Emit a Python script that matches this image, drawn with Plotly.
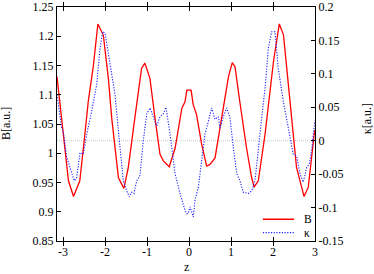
import plotly.graph_objects as go

# ---- data ----
z_B = [-3.143, -3.0, -2.95, -2.87, -2.75, -2.6, -2.48, -2.40, -2.28, -2.17, -2.04,
       -1.92, -1.84, -1.68, -1.55, -1.445, -1.29, -1.13, -1.05, -0.93, -0.81, -0.69,
       -0.61, -0.47, -0.33, -0.17, -0.095, -0.05, 0.05, 0.10, 0.18, 0.30, 0.42, 0.50,
       0.62, 0.74, 0.94, 1.03, 1.095, 1.21, 1.37, 1.49, 1.55, 1.65, 1.81, 2.01, 2.15,
       2.25, 2.40, 2.56, 2.74, 2.84, 2.98, 3.0]
B_vals = [1.131, 1.043, 1.009, 0.953, 0.926, 0.953, 1.032, 1.088, 1.148, 1.221, 1.202,
          1.128, 1.06, 0.958, 0.940, 0.976, 1.06, 1.145, 1.154, 1.128, 1.06, 0.998,
          0.987, 0.977, 1.009, 1.077, 1.088, 1.108, 1.108, 1.083, 1.066, 1.016, 0.978, 0.981,
          0.992, 1.043, 1.131, 1.155, 1.148, 1.088, 1.009, 0.959, 0.942, 0.953, 1.032, 1.156, 1.221,
          1.202, 1.088, 0.976, 0.926, 0.942, 1.032, 1.040]

z_k = [-3.143, -3.031, -2.993, -2.912, -2.833, -2.731, -2.674, -2.595, -2.517, -2.436,
       -2.317, -2.198, -2.119, -2.055, -2.0, -1.881, -1.762, -1.643, -1.564, -1.483,
       -1.421, -1.364, -1.310, -1.245, -1.167, -1.088, -1.007, -0.929, -0.850, -0.769,
       -0.690, -0.612, -0.548, -0.452, -0.333, -0.214, -0.095, -0.055, -0.017, 0.024,
       0.102, 0.143, 0.221, 0.302, 0.381, 0.460, 0.540, 0.619, 0.698, 0.738, 0.817,
       0.898, 0.976, 1.055, 1.136, 1.214, 1.293, 1.412, 1.493, 1.571, 1.650, 1.731,
       1.810, 1.888, 1.969, 2.048, 2.126, 2.245, 2.364, 2.483, 2.564, 2.643, 2.721,
       2.802, 2.864, 2.921, 2.976, 3.0]
kappa_vals = [0.069, 0.019, 0.014, -0.025, -0.040, -0.060, -0.055, -0.018, -0.020, 0.010,
              0.044, 0.084, 0.138, 0.163, 0.161, 0.118, 0.069, -0.010, -0.060, -0.075,
              -0.084, -0.077, -0.079, -0.060, -0.052, 0.0, 0.040, 0.049, 0.036, 0.022,
              0.036, 0.040, 0.050, 0.010, -0.049, -0.079, -0.104, -0.109, -0.109, -0.099,
              -0.114, -0.089, -0.070, -0.025, 0.010, 0.029, 0.049, 0.032, 0.036, 0.019, 0.036,
              0.049, 0.034, -0.010, -0.049, -0.060, -0.077, -0.079, -0.075, -0.060, -0.010, 0.034,
              0.078, 0.138, 0.163, 0.163, 0.108, 0.059, 0.019, -0.020, -0.023, -0.050, -0.062,
              -0.040, -0.035, -0.015, 0.019, 0.030]

series_names = ["B", "κ"]

x_ticks = [-3, -2, -1, 0, 1, 2, 3]
x_ticktext = ["-3", "-2", "-1", "0", "1", "2", "3"]
yB_ticks = [0.85, 0.9, 0.95, 1.0, 1.05, 1.1, 1.15, 1.2, 1.25]
yB_ticktext = ["0.85", "0.9", "0.95", "1", "1.05", "1.1", "1.15", "1.2", "1.25"]
yk_ticks = [-0.15, -0.1, -0.05, 0.0, 0.05, 0.1, 0.15, 0.2]
yk_ticktext = ["-0.15", "-0.1", "-0.05", "0", "0.05", "0.1", "0.15", "0.2"]

FONT = "Liberation Serif"
B_LINE = dict(color="#ff0000", width=1.3)
K_LINE = dict(color="#2020ff", width=1.1, dash="1.2px,1.5px")

fig = go.Figure()
fig.add_trace(go.Scatter(x=z_B, y=B_vals, mode="lines", name=series_names[0], line=B_LINE))
fig.add_trace(go.Scatter(x=z_k, y=kappa_vals, mode="lines", name=series_names[1],
                         yaxis="y2", line=K_LINE))

# kappa = 0 reference line
fig.add_shape(type="line", xref="paper", x0=0, x1=1, yref="y2", y0=0, y1=0,
              line=dict(color="#c8c8c8", width=1, dash="1px,1px"), layer="below")

# compact gnuplot-style key (bottom right)
key_rows = [0.093, 0.036]
for name, line, ky in zip(series_names, [B_LINE, K_LINE], key_rows):
    fig.add_shape(type="line", xref="paper", yref="paper", x0=0.798, x1=0.919,
                  y0=ky, y1=ky, line=line)
    fig.add_annotation(text=name, xref="paper", yref="paper", x=0.948, y=ky,
                       xanchor="left", yanchor="middle", showarrow=False,
                       font=dict(family=FONT, size=11.5, color="black"))

axis_common = dict(showgrid=False, zeroline=False, ticks="inside", ticklen=4,
                   tickcolor="black", showline=True, linecolor="black", linewidth=1,
                   automargin=False, ticklabeloverflow="allow",
                   tickfont=dict(family=FONT, size=12, color="black"))

fig.update_layout(
    width=374, height=274,
    margin=dict(l=57, r=59, t=7, b=33, autoexpand=False),
    paper_bgcolor="white", plot_bgcolor="white",
    font=dict(family=FONT, size=12, color="black"),
    xaxis=dict(range=[-3.143, 3.0], tickvals=x_ticks, ticktext=x_ticktext,
               mirror="allticks", **axis_common),
    yaxis=dict(range=[0.85, 1.25], tickvals=yB_ticks, ticktext=yB_ticktext, **axis_common),
    yaxis2=dict(range=[-0.15, 0.2], tickvals=yk_ticks, ticktext=yk_ticktext,
                overlaying="y", side="right", **axis_common),
    showlegend=False,
)
fig.add_annotation(text="z", xref="paper", yref="paper", x=0.5, y=0, yshift=-26,
                   xanchor="center", yanchor="middle", showarrow=False,
                   font=dict(family=FONT, size=12))
fig.add_annotation(text="B[a.u.]", xref="paper", yref="paper", x=0, xshift=-51, y=0.5,
                   xanchor="center", yanchor="middle", textangle=-90, showarrow=False,
                   font=dict(family=FONT, size=12))
fig.add_annotation(text="κ[a.u.]", xref="paper", yref="paper", x=1, xshift=52, y=0.52,
                   xanchor="center", yanchor="middle", textangle=-90, showarrow=False,
                   font=dict(family=FONT, size=12))

fig.write_html("out.html", config={"displayModeBar": False},
               post_script="document.body.style.margin='0';")
